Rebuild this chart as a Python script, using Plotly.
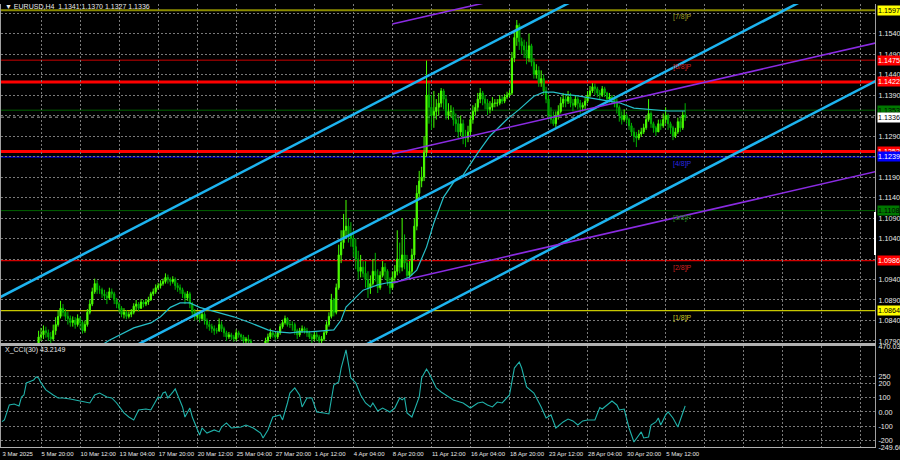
import plotly.graph_objects as go

# ---------------- DATA ----------------
first_open = 10380  # price * 10000
closes = [
    10400,10420,10435,10450,10470,10480, 10490,10500,10550,10600,10610,10625,
    10640,10680,10730,10770,10800,10805, 10815,10810,10800,10795,10815,10830,
    10850,10870,10860,10850,10845,10835,
    10840,10830,10845,10835,10815,10830, 10860,10880,10910,10930,10915,10915,
    10905,10900,10895,10910,10905,10890, 10880,10870,10855,10860,10850,10855,
    10860,10875,10880,10870,10885,10880,
    10885,10890,10905,10910,10920,10925, 10930,10935,10945,10940,10935,10940,
    10925,10920,10915,10905,10895,10905, 10880,10860,10850,10855,10845,10855,
    10840,10830,10825,10820,10815,10815,
    10830,10820,10810,10800,10805,10800, 10795,10810,10805,10800,10790,10795,
    10790,10780,10770,10760,10755,10765, 10775,10790,10800,10810,10805,10800,
    10810,10825,10835,10845,10830,10830,
    10830,10815,10805,10815,10820,10815, 10810,10800,10795,10805,10800,10790,
    10795,10810,10830,10850,10890,10860, 10920,11000,11030,11060,11070,11050,
    11040,11020,10990,10960,10970,10955,
    10940,10920,10930,10960,10950,10920, 10950,10970,10960,10935,10920,10945,
    10960,10990,10970,11000,10980,10950, 10960,11000,11070,11150,11180,11190,
    11250,11390,11360,11340,11350,11360,
    11370,11400,11380,11340,11350,11350, 11330,11320,11300,11320,11290,11285,
    11300,11330,11350,11360,11380,11395, 11380,11370,11355,11360,11370,11370,
    11370,11380,11375,11385,11390,11395,
    11480,11530,11560,11520,11510,11500, 11480,11510,11470,11440,11450,11420,
    11430,11400,11380,11340,11330,11320, 11340,11350,11370,11380,11375,11385,
    11370,11365,11380,11370,11360,11365,
    11375,11390,11400,11410,11405,11395, 11390,11405,11395,11380,11385,11380,
    11375,11360,11340,11330,11340,11330, 11315,11300,11290,11285,11295,11300,
    11310,11330,11345,11320,11310,11300,
    11320,11315,11330,11340,11320,11310, 11290,11300,11325,11310,11341,11336,
]
highs = [
    10410,10430,10445,10465,10480,10490, 10495,10510,10560,10615,10625,10635,
    10650,10690,10745,10785,10815,10822, 10828,10825,10818,10812,10830,10848,
    10865,10888,10880,10868,10862,10852,
    10850,10848,10855,10850,10840,10840, 10868,10890,10920,10942,10938,10925,
    10920,10915,10910,10920,10918,10910, 10895,10885,10875,10870,10865,10862,
    10868,10882,10890,10885,10892,10890,
    10892,10898,10910,10918,10928,10932, 10938,10942,10955,10952,10945,10948,
    10945,10932,10928,10920,10910,10912, 10910,10885,10868,10862,10860,10862,
    10860,10845,10838,10832,10828,10822,
    10845,10838,10825,10815,10812,10810, 10805,10818,10815,10808,10805,10800,
    10805,10795,10785,10775,10765,10770, 10780,10798,10808,10820,10815,10810,
    10815,10832,10842,10852,10848,10838,
    10838,10835,10820,10822,10828,10825, 10822,10815,10808,10815,10812,10805,
    10802,10815,10838,10860,10905,10895, 10930,11025,11060,11100,11134,11090,
    11080,11060,11040,11010,11000,10985,
    10985,10960,10950,10990,11005,10965, 10960,10985,10980,10965,10945,10960,
    10975,11060,11030,11090,11050,11000, 10985,11015,11090,11170,11205,11215,
    11290,11474,11420,11390,11400,11380,
    11395,11407,11405,11390,11370,11365, 11360,11345,11335,11340,11330,11305,
    11315,11340,11365,11370,11395,11407, 11400,11390,11380,11375,11385,11380,
    11380,11390,11388,11392,11398,11402,
    11495,11545,11573,11565,11530,11525, 11520,11540,11515,11480,11465,11460,
    11450,11440,11410,11390,11360,11350, 11350,11365,11385,11395,11392,11400,
    11395,11380,11390,11385,11378,11372,
    11385,11400,11412,11419,11418,11410, 11402,11412,11410,11398,11395,11390,
    11388,11382,11365,11350,11355,11345, 11335,11322,11310,11300,11305,11310,
    11320,11340,11380,11350,11325,11315,
    11330,11330,11345,11360,11345,11325, 11315,11310,11335,11335,11350,11370,
]
lows = [
    10375,10395,10410,10425,10445,10462, 10470,10480,10495,10545,10590,10600,
    10615,10630,10675,10725,10760,10790, 10795,10798,10790,10785,10790,10805,
    10825,10845,10850,10840,10830,10825,
    10825,10820,10825,10820,10808,10810, 10825,10855,10875,10905,10905,10905,
    10895,10890,10880,10890,10895,10880, 10870,10860,10848,10845,10843,10845,
    10848,10855,10865,10862,10868,10872,
    10875,10878,10888,10900,10905,10915, 10918,10925,10930,10930,10925,10930,
    10915,10910,10905,10895,10880,10888, 10870,10850,10840,10842,10835,10840,
    10830,10820,10815,10810,10805,10808,
    10812,10812,10800,10790,10795,10792, 10788,10790,10798,10792,10780,10785,
    10782,10772,10760,10752,10745,10750, 10760,10770,10785,10795,10798,10792,
    10795,10805,10820,10830,10825,10822,
    10815,10805,10795,10800,10810,10808, 10800,10795,10785,10790,10790,10782,
    10782,10790,10805,10825,10845,10850, 10855,10915,10980,11015,11040,11030,
    11020,10995,10965,10940,10945,10945,
    10920,10895,10905,10925,10935,10907, 10915,10945,10940,10925,10905,10915,
    10930,10950,10955,10960,10965,10940, 10940,10950,10990,11060,11140,11165,
    11180,11240,11320,11305,11310,11330,
    11340,11360,11355,11330,11330,11335, 11315,11300,11285,11290,11270,11263,
    11275,11290,11320,11340,11350,11370, 11365,11355,11341,11345,11352,11360,
    11362,11365,11368,11370,11380,11385,
    11390,11470,11510,11500,11490,11480, 11465,11470,11460,11430,11430,11410,
    11410,11390,11370,11330,11320,11315, 11312,11330,11345,11360,11360,11368,
    11360,11350,11360,11355,11345,11350,
    11355,11370,11385,11395,11390,11385, 11380,11385,11385,11370,11372,11368,
    11360,11345,11325,11318,11325,11320, 11305,11290,11275,11263,11280,11288,
    11295,11305,11325,11310,11298,11290,
    11300,11305,11310,11320,11305,11295, 11280,11285,11295,11300,11305,11327,
]

# moving average (bar index, price)
ma_idx = [38,45,55,62,66,70,74,78,82,89,96,103,110,114,119,123,127,137,140,142,146,
          149,155,159,163,168,171,175,178,182,187,190,196,201,208,213,219,223,227,
          231,237,242,246,254,260,266,274,281]
ma_val = [1.0765,1.0792,1.0822,1.0834,1.0849,1.0872,1.0883,1.0883,1.0872,1.0861,1.0849,
          1.0834,1.0817,1.0812,1.0810,1.0812,1.0812,1.0817,1.0841,1.0873,1.0895,
          1.0914,1.0927,1.0932,1.0934,1.0946,1.0963,1.1019,1.1078,1.1141,1.1185,
          1.1195,1.1249,1.1290,1.1331,1.1355,1.1387,1.1397,1.1397,1.1392,1.1388,
          1.1383,1.1380,1.1371,1.1358,1.1355,1.1351,1.1351]

# CCI(30) (bar index, value)
cci_idx = [1,2,4,6,8,9,10,11,12,14,15,16,17,19,22,24,26,29,33,37,39,41,44,46,48,51,53,
           55,57,60,62,65,66,67,68,69,71,72,73,75,76,78,79,81,82,83,85,88,90,91,93,95,
           99,101,104,107,108,110,112,115,116,118,119,121,123,124,126,128,130,133,135,
           137,139,140,142,144,146,148,150,152,153,155,157,160,162,164,165,166,167,169,
           172,173,175,176,179,181,183,186,190,193,196,198,200,202,204,206,209,211,213,
           214,216,219,222,224,226,228,231,233,235,237,239,241,244,246,247,249,251,253,
           254,256,258,260,263,264,266,267,269,270,271,273,274,276,278,280,281]
cci_val = [-69,-57,50,57,43,107,121,207,214,228,249,242,207,157,121,100,100,93,78,64,
           121,135,107,100,64,-7,-36,-57,14,21,14,107,100,135,142,100,142,164,121,36,
           -36,28,-36,-128,-164,-114,-150,-128,-142,-107,-78,-114,-107,-93,-114,-150,
           -185,-128,-36,-21,-57,64,135,171,120,36,100,100,0,-7,-14,192,214,313,442,
           242,207,121,64,36,64,7,28,0,28,100,86,100,-7,-36,107,242,306,278,171,142,
           121,86,64,28,64,71,50,36,71,64,121,313,356,313,178,135,36,-43,-21,-114,-71,
           -50,-64,-93,-64,-57,-57,32,21,50,78,50,14,21,-114,-214,-142,-185,-178,-93,
           -71,-43,-93,-21,0,-43,-107,-7,43]

# time axis
tick_idx = [1,17,33,49,65,81,97,113,129,145,161,177,193,209,225,241,257,273,
            289,305,321,337,353]
tick_text = ["3 Mar 2025","5 Mar 20:00","10 Mar 12:00","13 Mar 04:00","17 Mar 20:00",
             "20 Mar 12:00","25 Mar 04:00","27 Mar 20:00","1 Apr 12:00","4 Apr 04:00",
             "8 Apr 20:00","11 Apr 12:00","16 Apr 04:00","18 Apr 20:00","23 Apr 12:00",
             "28 Apr 04:00","30 Apr 20:00","5 May 12:00","","","","",""]

# price axis ticks
price_ticks = [1.0790,1.0840,1.0890,1.0940,1.0990,1.1040,1.1090,1.1140,1.1190,1.1240,
               1.1290,1.1340,1.1390,1.1440,1.1490,1.1540,1.1590]
price_tick_text = ["1.0790","1.0840","1.0890","1.0940","","1.1040","1.1090","1.1140",
                   "1.1190","","1.1290","","1.1390","1.1440","1.1490","1.1540",""]
cci_ticks = [470.0315,250,200,100,0,-100,-200,-249.608]
cci_tick_text = ["470.0315","250","200","100","0.00","-100","-200","-249.608"]

# horizontal levels
levels = [1.1597,1.1475,1.1422,1.1353,1.1336,1.1252,1.1239,1.1108,1.0986,1.0864]
level_labels = ["1.1597","1.1475","1.1422","1.1353","1.1336","1.1252","1.1239",
                "1.1108","1.0986","1.0864"]
murrey_text = {1.1597:"[7/8]P",1.1475:"[6/8]P",1.1239:"[4/8]P",1.1108:"[3/8]P",
               1.0986:"[2/8]P",1.0864:"[1/8]P"}

# trend lines: (bar index, price) pairs
channel_lines = [[(0,1.0896),(240,1.1635)],
                 [(0,1.0607),(360,1.1715)],
                 [(0,1.0319),(360,1.1427)]]
fan_lines = [[(161,1.1563),(359,1.1834)],
             [(161,1.1246),(359,1.1517)],
             [(161,1.0932),(359,1.1203)]]

# ---------------- FIGURE ----------------
W, H = 900, 460
n = len(closes)
C = [c/10000 for c in closes]
Hh = [h/10000 for h in highs]
Ll = [l/10000 for l in lows]
O = [first_open/10000] + C[:-1]
xs = list(range(n))

FONT = "Liberation Sans"
TXT = "#E8E8E8"
GRID = "#7a7a7a"
fig = go.Figure()

fig.add_trace(go.Candlestick(
    x=xs, open=O, high=Hh, low=Ll, close=C, xaxis="x", yaxis="y",
    increasing=dict(line=dict(color="#44FF00", width=1), fillcolor="#7CFC00"),
    decreasing=dict(line=dict(color="#00B400", width=1), fillcolor="#008C00"),
    whiskerwidth=0, hoverinfo="skip", showlegend=False))

fig.add_trace(go.Scatter(x=ma_idx, y=ma_val, mode="lines", xaxis="x", yaxis="y",
                         line=dict(color="#26BFC8", width=1.2), hoverinfo="skip",
                         showlegend=False))

for ln in channel_lines:
    fig.add_trace(go.Scatter(x=[p[0] for p in ln], y=[p[1] for p in ln], mode="lines",
                             xaxis="x", yaxis="y", line=dict(color="#1DB4F0", width=2.5),
                             hoverinfo="skip", showlegend=False))
for ln in fan_lines:
    fig.add_trace(go.Scatter(x=[p[0] for p in ln], y=[p[1] for p in ln], mode="lines",
                             xaxis="x", yaxis="y", line=dict(color="#8A2BE2", width=1.6),
                             hoverinfo="skip", showlegend=False))

fig.add_trace(go.Scatter(x=cci_idx, y=cci_val, mode="lines", xaxis="x2", yaxis="y2",
                         line=dict(color="#20B2AA", width=1.1), hoverinfo="skip",
                         showlegend=False))

level_style = {
    1.1597: ("#8B8B00", 2, "solid", "#FFFF00", "#000000", "#9A9A20"),
    1.1475: ("#C80000", 1, "solid", "#FF0000", "#FFFFFF", "#D02020"),
    1.1422: ("#FF0000", 3, "solid", "#FF0000", "#FFFFFF", "#D02020"),
    1.1353: ("#006400", 1, "solid", "#007800", "#000000", "#208020"),
    1.1336: ("#A0A0A0", 1, "dot", "#FFFFFF", "#000000", "#A0A0A0"),
    1.1252: ("#FF0000", 3, "solid", "#FF0000", "#FFFFFF", "#D02020"),
    1.1239: ("#000090", 2, "solid", "#0000FF", "#FFFFFF", "#2828E0"),
    1.1108: ("#006400", 1, "solid", "#007800", "#000000", "#208020"),
    1.0986: ("#D00000", 1.2, "solid", "#FF0000", "#FFFFFF", "#D02020"),
    1.0864: ("#C8C800", 1.2, "solid", "#FFFF00", "#000000", "#C8C820"),
}
shapes = []
annotations = []
x_right = 875 / W
for lv, lab in zip(levels, level_labels):
    col, wd, dash, bg, fg, tcol = level_style[lv]
    shapes.append(dict(type="line", xref="x domain", yref="y", x0=0, x1=1, y0=lv, y1=lv,
                       line=dict(color=col, width=wd, dash=dash), layer="below"))
    annotations.append(dict(xref="paper", yref="y", x=x_right + 2 / W, y=lv, text=lab,
                            showarrow=False, xanchor="left", yanchor="middle",
                            bgcolor=bg, borderpad=0,
                            font=dict(family=FONT, size=7.2, color=fg)))
    if lv in murrey_text:
        annotations.append(dict(xref="x", yref="y", x=275, y=lv, text=murrey_text[lv],
                                showarrow=False, xanchor="left", yanchor="top", yshift=-1,
                                font=dict(family=FONT, size=7, color=tcol)))

# white marker on right axis
shapes.append(dict(type="line", xref="paper", yref="paper", x0=x_right, x1=x_right,
                   y0=(H - 255) / H, y1=(H - 212) / H, line=dict(color="#FFFFFF", width=2)))

annotations.append(dict(xref="paper", yref="paper", x=3 / W, y=1 - 6 / H,
                        text="▼ EURUSD,H4  1.1341 1.1370 1.1327 1.1336", showarrow=False,
                        xanchor="left", yanchor="middle",
                        font=dict(family=FONT, size=7, color=TXT)))
annotations.append(dict(xref="paper", yref="paper", x=3 / W, y=1 - 350 / H,
                        text="X_CCI(30) 43.2149", showarrow=False,
                        xanchor="left", yanchor="middle",
                        font=dict(family=FONT, size=7, color=TXT)))

xdom = [1 / W, 875 / W]
main_dom = [(H - 343) / H, (H - 4) / H]
cci_dom = [(H - 447) / H, (H - 346) / H]
xr = [0.6, 358.8]

fig.update_layout(
    width=W, height=H, margin=dict(l=0, r=0, t=0, b=0, autoexpand=False),
    paper_bgcolor="#000000", plot_bgcolor="#000000",
    showlegend=False, hovermode=False, dragmode=False,
    font=dict(family=FONT, size=7, color=TXT),
    xaxis=dict(domain=xdom, range=xr, anchor="y", tickvals=tick_idx, showticklabels=False,
               showgrid=True, gridcolor=GRID, griddash="2px,2px", gridwidth=1,
               zeroline=False, showline=True, linecolor="#B0B0B0", linewidth=2,
               ticks="", rangeslider=dict(visible=False), automargin=False),
    yaxis=dict(domain=main_dom, range=[1.07851, 1.16120], anchor="x", side="right",
               tickvals=price_ticks, ticktext=price_tick_text,
               tickfont=dict(family=FONT, size=7.2, color=TXT),
               showgrid=True, gridcolor=GRID, griddash="2px,2px", gridwidth=1,
               zeroline=False, showline=True, mirror=True, linecolor="#A0A0A0",
               ticks="", ticklabelstandoff=1, automargin=False),
    xaxis2=dict(domain=xdom, range=xr, anchor="y2", matches="x", tickvals=tick_idx,
                ticktext=tick_text, ticklabelposition="outside right", tickangle=0,
                ticklabeloverflow="allow",
                tickfont=dict(family=FONT, size=6, color=TXT),
                showgrid=True, gridcolor=GRID, griddash="2px,2px", gridwidth=1,
                zeroline=False, showline=True, mirror=True, linecolor="#B0B0B0",
                linewidth=1, ticks="", ticklabelstandoff=1, automargin=False),
    yaxis2=dict(domain=cci_dom, range=[-249.608, 470.0315], anchor="x2", side="right",
                tickvals=cci_ticks, ticktext=cci_tick_text,
                tickfont=dict(family=FONT, size=7.2, color=TXT),
                showgrid=True, gridcolor=GRID, griddash="2px,2px", gridwidth=1,
                zeroline=False, showline=True, mirror=True, linecolor="#A0A0A0",
                ticks="", ticklabelstandoff=1, automargin=False),
    shapes=shapes, annotations=annotations,
)

fig.write_html("out.html", config={"displayModeBar": False, "staticPlot": True},
               post_script="document.body.style.margin='0';"
                           "document.body.style.overflow='hidden';")
